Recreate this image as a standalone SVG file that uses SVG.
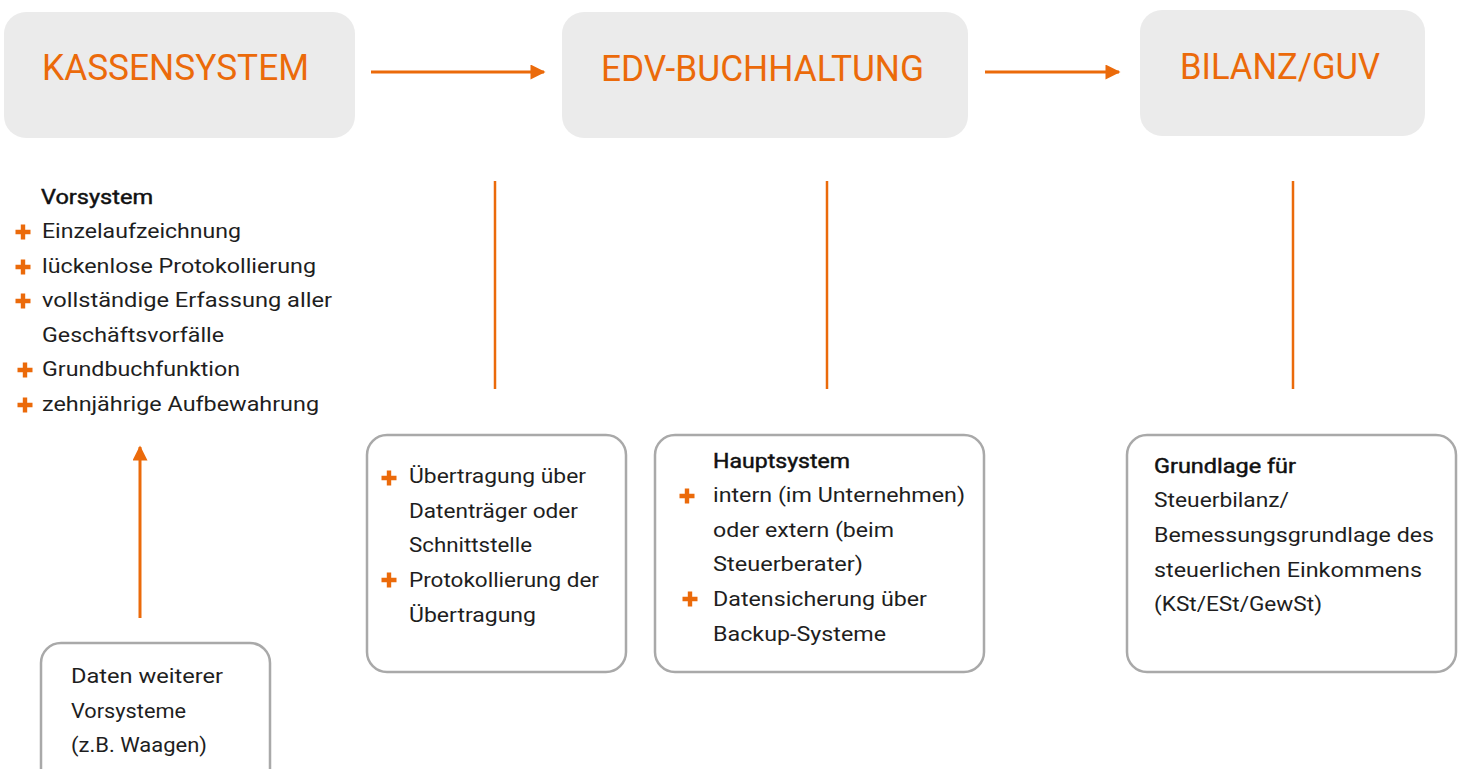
<svg xmlns="http://www.w3.org/2000/svg" width="1464" height="769" viewBox="0 0 1464 769">
<defs>
<style>
.hd{fill:#eb6a0a;font-family:Roboto,"Liberation Sans",sans-serif;font-size:37px;}
.hbox{fill:#ebebeb;}
.obox{fill:#fff;stroke:#a9a9a9;stroke-width:2.5;}
.t{fill:#1e1e1e;font-family:Roboto,"Liberation Sans",sans-serif;font-size:20px;}
.b{fill:#111;stroke:#111;stroke-width:0.45;}
.ln{stroke:#eb6a0a;stroke-width:2.5;fill:none;}
.ar{stroke:#eb6a0a;stroke-width:3;fill:none;}
.pl{fill:#eb6a0a;}
</style>
<marker id="ah" viewBox="0 0 10 10" refX="9" refY="5" markerWidth="6" markerHeight="5" markerUnits="strokeWidth" orient="auto">
<path d="M0,0 L10,5 L0,10 z" fill="#eb6a0a"/>
</marker>
<path id="plus" d="M-2.2,-7.5 h4.4 v5.3 h5.3 v4.4 h-5.3 v5.3 h-4.4 v-5.3 h-5.3 v-4.4 h5.3 z"/>
</defs>

<g id="node-kassensystem">
<rect class="hbox" x="4" y="12" width="351" height="126" rx="22"/>
<text class="hd" x="42" y="80" textLength="267" lengthAdjust="spacingAndGlyphs">KASSENSYSTEM</text>
</g>
<g id="node-edv">
<rect class="hbox" x="562" y="12" width="406" height="126" rx="22"/>
<text class="hd" x="601" y="81" textLength="323" lengthAdjust="spacingAndGlyphs">EDV-BUCHHALTUNG</text>
</g>
<g id="node-bilanz">
<rect class="hbox" x="1140" y="10" width="285" height="126" rx="22"/>
<text class="hd" x="1180" y="79" textLength="200" lengthAdjust="spacingAndGlyphs">BILANZ/GUV</text>
</g>

<g id="node-vorsystem">
<text class="t b" x="41" y="204" textLength="112" lengthAdjust="spacingAndGlyphs">Vorsystem</text>
<use href="#plus" class="pl" x="23" y="232"/>
<text class="t" x="42" y="238" textLength="199" lengthAdjust="spacingAndGlyphs">Einzelaufzeichnung</text>
<use href="#plus" class="pl" x="23" y="267"/>
<text class="t" x="42" y="273" textLength="274" lengthAdjust="spacingAndGlyphs">lückenlose Protokollierung</text>
<use href="#plus" class="pl" x="23" y="301"/>
<text class="t" x="42" y="307" textLength="290" lengthAdjust="spacingAndGlyphs">vollständige Erfassung aller</text>
<text class="t" x="42" y="342" textLength="182" lengthAdjust="spacingAndGlyphs">Geschäftsvorfälle</text>
<use href="#plus" class="pl" x="25" y="370"/>
<text class="t" x="42" y="376" textLength="198" lengthAdjust="spacingAndGlyphs">Grundbuchfunktion</text>
<use href="#plus" class="pl" x="25" y="405"/>
<text class="t" x="42" y="411" textLength="277" lengthAdjust="spacingAndGlyphs">zehnjährige Aufbewahrung</text>
</g>

<g id="node-weitere">
<rect class="obox" x="41" y="643" width="229" height="150" rx="20"/>
<text class="t" x="71" y="683" textLength="152" lengthAdjust="spacingAndGlyphs">Daten weiterer</text>
<text class="t" x="71" y="718" textLength="115" lengthAdjust="spacingAndGlyphs">Vorsysteme</text>
<text class="t" x="71" y="752" textLength="136" lengthAdjust="spacingAndGlyphs">(z.B. Waagen)</text>
</g>

<g id="node-uebertragung">
<rect class="obox" x="367" y="435" width="259" height="237" rx="20"/>
<use href="#plus" class="pl" x="389" y="478"/>
<text class="t" x="409" y="483" textLength="177" lengthAdjust="spacingAndGlyphs">Übertragung über</text>
<text class="t" x="409" y="518" textLength="169" lengthAdjust="spacingAndGlyphs">Datenträger oder</text>
<text class="t" x="409" y="552" textLength="123" lengthAdjust="spacingAndGlyphs">Schnittstelle</text>
<use href="#plus" class="pl" x="389" y="580"/>
<text class="t" x="409" y="587" textLength="190" lengthAdjust="spacingAndGlyphs">Protokollierung der</text>
<text class="t" x="409" y="622" textLength="127" lengthAdjust="spacingAndGlyphs">Übertragung</text>
</g>

<g id="node-hauptsystem">
<rect class="obox" x="655" y="435" width="329" height="237" rx="20"/>
<text class="t b" x="713" y="468" textLength="137" lengthAdjust="spacingAndGlyphs">Hauptsystem</text>
<use href="#plus" class="pl" x="687" y="496"/>
<text class="t" x="713" y="502" textLength="252" lengthAdjust="spacingAndGlyphs">intern (im Unternehmen)</text>
<text class="t" x="713" y="537" textLength="181" lengthAdjust="spacingAndGlyphs">oder extern (beim</text>
<text class="t" x="713" y="571" textLength="150" lengthAdjust="spacingAndGlyphs">Steuerberater)</text>
<use href="#plus" class="pl" x="690" y="599"/>
<text class="t" x="713" y="606" textLength="214" lengthAdjust="spacingAndGlyphs">Datensicherung über</text>
<text class="t" x="713" y="641" textLength="173" lengthAdjust="spacingAndGlyphs">Backup-Systeme</text>
</g>

<g id="node-grundlage">
<rect class="obox" x="1127" y="435" width="329" height="237" rx="20"/>
<text class="t b" x="1154" y="473" textLength="142" lengthAdjust="spacingAndGlyphs">Grundlage für</text>
<text class="t" x="1154" y="507" textLength="135" lengthAdjust="spacingAndGlyphs">Steuerbilanz/</text>
<text class="t" x="1154" y="542" textLength="280" lengthAdjust="spacingAndGlyphs">Bemessungsgrundlage des</text>
<text class="t" x="1154" y="577" textLength="268" lengthAdjust="spacingAndGlyphs">steuerlichen Einkommens</text>
<text class="t" x="1154" y="611" textLength="168" lengthAdjust="spacingAndGlyphs">(KSt/ESt/GewSt)</text>
</g>

<g id="connectors">
<line class="ar" x1="371" y1="72" x2="544" y2="72" marker-end="url(#ah)"/>
<line class="ar" x1="985" y1="72" x2="1119" y2="72" marker-end="url(#ah)"/>
<line class="ar" x1="140" y1="618" x2="140" y2="447" marker-end="url(#ah)"/>
<line class="ln" x1="495" y1="181" x2="495" y2="389"/>
<line class="ln" x1="827" y1="181" x2="827" y2="389"/>
<line class="ln" x1="1293" y1="181" x2="1293" y2="389"/>
</g>
</svg>
